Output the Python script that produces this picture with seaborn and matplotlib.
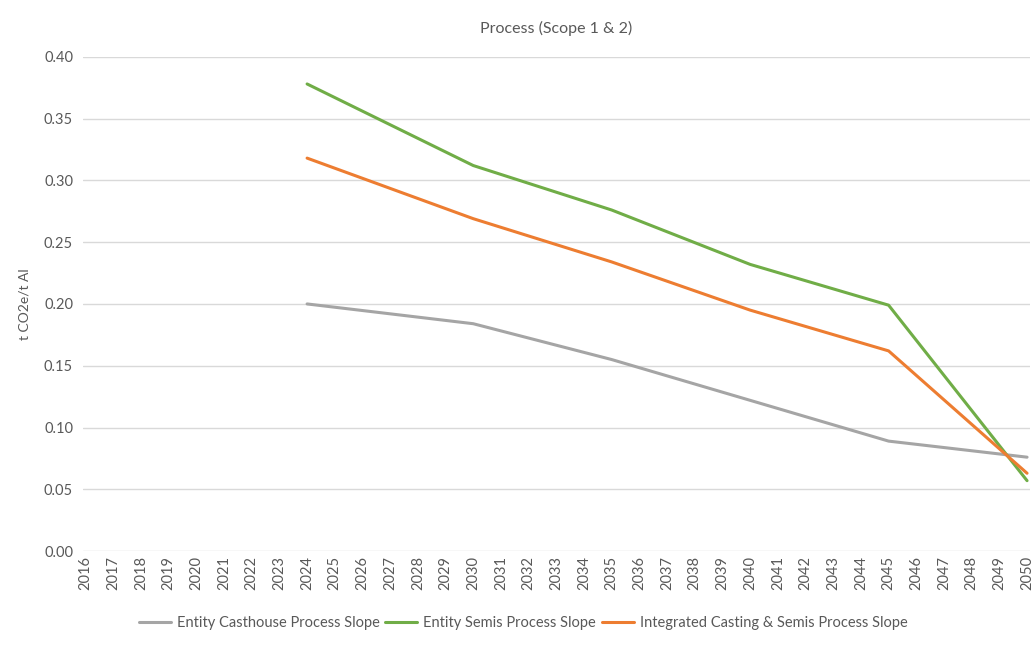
import pandas as pd
import matplotlib.pyplot as plt
import seaborn as sns

# Dados
anos = [2024, 2030, 2035, 2040, 2045, 2050]
casthouse = [0.200, 0.184, 0.155, 0.122, 0.089, 0.076]
semis = [0.378, 0.312, 0.276, 0.232, 0.199, 0.057]
integrado = [0.318, 0.269, 0.234, 0.195, 0.162, 0.063]
series = ['Entity Casthouse Process Slope', 'Entity Semis Process Slope',
          'Integrated Casting & Semis Process Slope']
anos_eixo = list(range(2016, 2051))

df = pd.DataFrame({
    'Ano': anos * 3,
    'Valor': casthouse + semis + integrado,
    'Serie': [s for s in series for _ in anos],
})

sns.set_theme(style='white')
plt.rcParams['font.family'] = ['Lato', 'DejaVu Sans']
cor_texto = '#595959'

fig = plt.figure(figsize=(10.35, 6.68), dpi=100)
ax = fig.add_axes([0.08, 0.175, 0.915, 0.74])

paleta = {series[0]: '#A5A5A5', series[1]: '#70AD47', series[2]: '#ED7D31'}
sns.lineplot(data=df, x='Ano', y='Valor', hue='Serie', palette=paleta,
             linewidth=2.2, ax=ax)

ax.set_xlim(2015.9, 2050.1)
ax.set_ylim(0, 0.40)
ax.set_xticks(anos_eixo)
ax.set_xticklabels([str(a) for a in anos_eixo], rotation=90)
ax.set_yticks([i * 0.05 for i in range(9)])
ax.set_yticklabels([f'{i * 0.05:.2f}' for i in range(9)])
ax.tick_params(axis='both', length=0, colors=cor_texto, labelsize=10.5)
ax.tick_params(axis='y', pad=7)
ax.grid(axis='y', color='#D9D9D9', linewidth=1)
ax.set_axisbelow(True)
for s in ax.spines.values():
    s.set_visible(False)

ax.set_xlabel('')
ax.set_ylabel('t CO2e/t Al', color=cor_texto, fontsize=10, labelpad=10)
ax.set_title('Process (Scope 1 & 2)', color=cor_texto, fontsize=11.5, pad=17)

ax.legend(loc='upper center', bbox_to_anchor=(0.465, -0.105), ncol=3,
          frameon=False, fontsize=10.5, handlelength=2.2, columnspacing=0.4,
          handletextpad=0.4, labelcolor=cor_texto)

plt.savefig('out.png', dpi=100)
